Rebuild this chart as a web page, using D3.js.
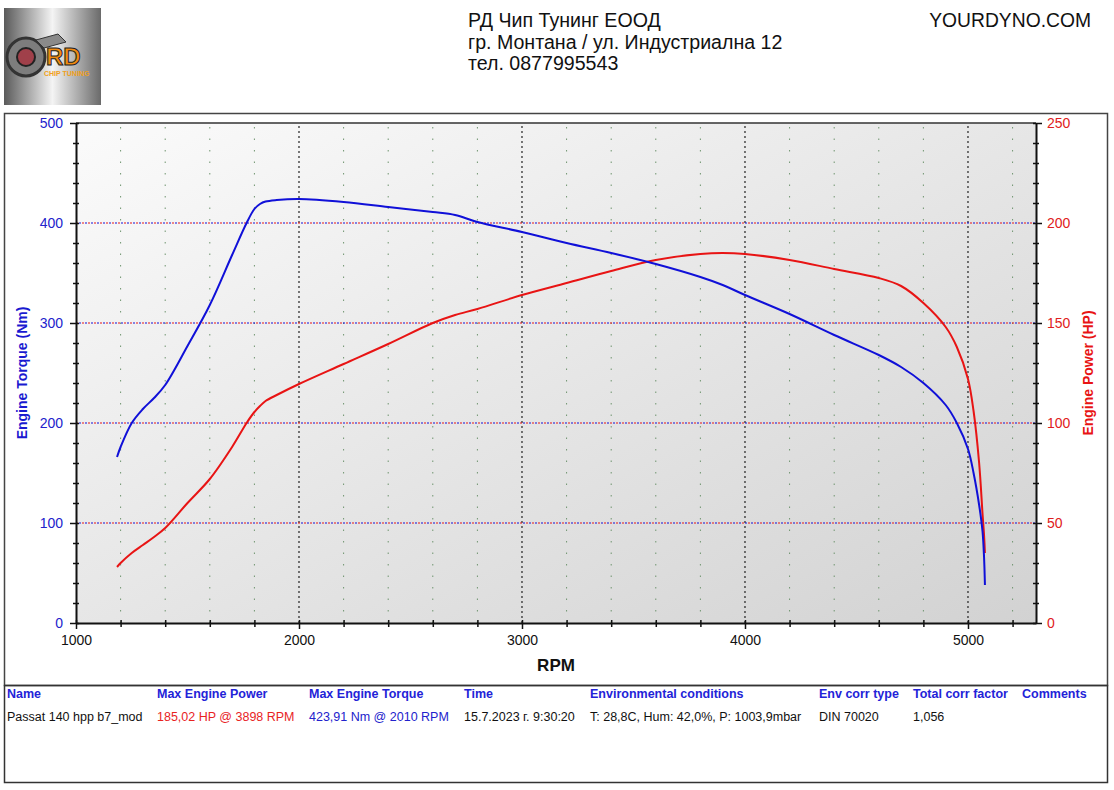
<!DOCTYPE html>
<meta charset="utf-8">
<script src="https://d3js.org/d3.v7.min.js"></script>
<style>
body {margin: 0; background: #fff;}
* {font-family: Arial, "Liberation Sans", sans-serif;}
</style>
<div id="chart"></div>
<script>
// dyno run
var rpm    = [1184, 1200, 1250, 1300, 1350, 1400, 1500, 1600, 1700, 1765, 1800, 1825, 1850, 1900, 2000, 2200, 2400, 2600, 2700, 2800, 3000, 3200, 3400, 3600, 3800, 3900, 4000, 4200, 4400, 4600, 4700, 4800, 4900, 4950, 5000, 5025, 5050, 5065, 5072, 5076];
var torque = [166, 176, 200, 214, 225, 238, 277, 318, 368, 400, 414, 419, 421.5, 423, 424, 421, 416, 411, 408, 401, 391, 380, 370, 359, 346, 338, 328, 309, 288, 268, 256, 240, 218, 200, 174, 150, 118, 92, 66, 38];
var power  = [28, 30, 35, 39, 43, 47.5, 60, 72, 88, 100, 105.5, 108.5, 111, 114, 119.5, 129.5, 139.5, 150, 154, 157, 164, 170, 176, 181.5, 184.5, 185, 184.5, 181.5, 177, 172.5, 168.5, 160, 148, 138, 122, 106, 80, 55, 44, 35];

var rpmTicks = d3.range(1000, 5301, 200);
var rpmLabels = [1000, 2000, 3000, 4000, 5000];
var torqueTicks = d3.range(0, 501, 20);
var powerTicks = d3.range(0, 251, 10);

var headerLines = ["РД Чип Тунинг ЕООД", "гр. Монтана / ул. Индустриална 12", "тел. 0877995543"];
var site = "YOURDYNO.COM";

var tableHeads = ["Name", "Max Engine Power", "Max Engine Torque", "Time", "Environmental conditions", "Env corr type", "Total corr factor", "Comments"];
var tableRow = ["Passat 140 hpp b7_mod", "185,02 HP @ 3898 RPM", "423,91 Nm @ 2010 RPM", "15.7.2023 г. 9:30:20", "T: 28,8C, Hum: 42,0%, P: 1003,9mbar", "DIN 70020", "1,056", ""];
var tableX = [7, 157, 309, 464, 590, 819, 913, 1022];
var rowColors = ["#111", "#e8231f", "#2222cc", "#111", "#111", "#111", "#111", "#111"];

var W = 1114, H = 790;
var blue = "#1010d8", red = "#e81414";
var pL = 76, pR = 1036, pT = 123, pB = 623;

var svg = d3.select("#chart").append("svg")
	.attr("width", W)
	.attr("height", H);

var defs = svg.append("defs");
var bg = defs.append("linearGradient").attr("id", "bg")
	.attr("x1", "0").attr("y1", "0").attr("x2", "1").attr("y2", "1");
bg.append("stop").attr("offset", "0").attr("stop-color", "#fbfbfb");
bg.append("stop").attr("offset", "1").attr("stop-color", "#d2d2d2");

var lg = defs.append("linearGradient").attr("id", "logo")
	.attr("x1", "0").attr("y1", "0").attr("x2", "1").attr("y2", "0");
lg.append("stop").attr("offset", "0").attr("stop-color", "#5a5a5a");
lg.append("stop").attr("offset", "0.5").attr("stop-color", "#f4f4f4");
lg.append("stop").attr("offset", "1").attr("stop-color", "#6a6a6a");

// logo
var logo = svg.append("g");
logo.append("rect").attr("x", 4).attr("y", 8).attr("width", 97).attr("height", 97).attr("fill", "url(#logo)");
logo.append("circle").attr("cx", 26).attr("cy", 57).attr("r", 19).attr("fill", "#7d7d7d").attr("stroke", "#333").attr("stroke-width", 3);
logo.append("circle").attr("cx", 26).attr("cy", 57).attr("r", 9).attr("fill", "#a0404a").attr("stroke", "#222").attr("stroke-width", 2);
logo.append("path").attr("d", "M36 40 L58 34 L66 42 L44 48 Z").attr("fill", "#8a8a8a").attr("stroke", "#333");
logo.append("text").attr("x", 46).attr("y", 65).attr("font-size", 24).attr("font-weight", "bold")
	.attr("fill", "#f08a10").attr("stroke", "#222").attr("stroke-width", 1).text("RD");
logo.append("text").attr("x", 44).attr("y", 76).attr("font-size", 7).attr("font-weight", "bold")
	.attr("fill", "#f0a020").text("CHIP TUNING");

// header text
svg.selectAll(".hdr").data(headerLines).enter().append("text")
	.attr("x", 468)
	.attr("y", function(d, i) { return 27 + i * 21.5; })
	.attr("font-size", 19.6)
	.attr("fill", "#111")
	.text(function(d) { return d; });
svg.append("text").attr("x", 1091).attr("y", 27).attr("text-anchor", "end")
	.attr("font-size", 19.3).attr("fill", "#111").text(site);

// frames
svg.append("rect").attr("x", 4.5).attr("y", 113.5).attr("width", 1103).attr("height", 572)
	.attr("fill", "none").attr("stroke", "#444").attr("stroke-width", 1.5);
svg.append("rect").attr("x", 4.5).attr("y", 685.5).attr("width", 1103).attr("height", 97)
	.attr("fill", "none").attr("stroke", "#333").attr("stroke-width", 1.5);

// scales
var x = d3.scaleLinear().domain([1000, 5305]).range([pL, pR]);
var yT = d3.scaleLinear().domain([0, 500]).range([pB, pT]);
var yP = d3.scaleLinear().domain([0, 250]).range([pB, pT]);

svg.append("rect").attr("x", pL).attr("y", pT).attr("width", pR - pL).attr("height", pB - pT)
	.attr("fill", "url(#bg)");

// vertical grid
var grid = svg.append("g");
rpmTicks.filter(function(d) { return d > 1000; }).forEach(function(d) {
	var major = d % 1000 === 0;
	grid.append("line")
		.attr("x1", x(d)).attr("x2", x(d))
		.attr("y1", pB).attr("y2", pT)
		.attr("stroke", major ? "#222" : "#6f946f")
		.attr("stroke-width", major ? 1.2 : 1)
		.attr("stroke-dasharray", major ? "2,3" : "1.5,10");
});

// horizontal grid, red/blue dashes
[100, 200, 300, 400].forEach(function(d) {
	grid.append("line").attr("x1", pL).attr("x2", pR).attr("y1", yT(d)).attr("y2", yT(d))
		.attr("stroke", red).attr("stroke-width", 1).attr("stroke-dasharray", "2,4");
	grid.append("line").attr("x1", pL).attr("x2", pR).attr("y1", yT(d)).attr("y2", yT(d))
		.attr("stroke", blue).attr("stroke-width", 1).attr("stroke-dasharray", "2,4").attr("stroke-dashoffset", -3);
});

svg.append("line").attr("x1", pL).attr("x2", pR).attr("y1", pT).attr("y2", pT)
	.attr("stroke", "#333").attr("stroke-width", 1.5);

// axes
var gx = svg.append("g").attr("transform", "translate(0," + pB + ")")
	.call(d3.axisBottom(x).tickValues(rpmTicks).tickSize(5).tickSizeOuter(0)
		.tickFormat(function(d) { return rpmLabels.indexOf(d) >= 0 ? d : ""; }));
gx.selectAll(".tick line").attr("y1", -3).attr("y2", function(d) { return d % 1000 === 0 ? 6 : 4; });
gx.selectAll("text").attr("font-size", 14).attr("fill", "#111").attr("y", 12).attr("font-family", "Arial, 'Liberation Sans'");

var gl = svg.append("g").attr("transform", "translate(" + pL + ",0)")
	.call(d3.axisLeft(yT).tickValues(torqueTicks).tickSizeOuter(0)
		.tickFormat(function(d) { return d % 100 === 0 ? d : ""; }));
gl.selectAll(".tick line").attr("x1", function(d) { return d % 100 === 0 ? -6 : -3; }).attr("x2", 3);
gl.selectAll("text").attr("font-size", 14).attr("fill", "#2222cc").attr("x", -13).attr("font-family", "Arial, 'Liberation Sans'");

var gr = svg.append("g").attr("transform", "translate(" + pR + ",0)")
	.call(d3.axisRight(yP).tickValues(powerTicks).tickSizeOuter(0)
		.tickFormat(function(d) { return d % 50 === 0 ? d : ""; }));
gr.selectAll(".tick line").attr("x1", -3).attr("x2", function(d) { return d % 50 === 0 ? 6 : 3; });
gr.selectAll("text").attr("font-size", 14).attr("fill", "#e02020").attr("x", 11).attr("font-family", "Arial, 'Liberation Sans'");

[gx, gl, gr].forEach(function(g) {
	g.select(".domain").attr("stroke", "#111").attr("stroke-width", 2);
	g.selectAll(".tick line").attr("stroke", "#111").attr("stroke-width", 1.5);
});

// axis titles
svg.append("text").attr("x", 556).attr("y", 671).attr("text-anchor", "middle")
	.attr("font-size", 17).attr("font-weight", "bold").attr("fill", "#111").text("RPM");
svg.append("text").attr("transform", "translate(27,373) rotate(-90)").attr("text-anchor", "middle")
	.attr("font-size", 14).attr("font-weight", "bold").attr("fill", "#1a1ad0").text("Engine Torque (Nm)");
svg.append("text").attr("transform", "translate(1093,373) rotate(-90)").attr("text-anchor", "middle")
	.attr("font-size", 14).attr("font-weight", "bold").attr("fill", "#e81414").text("Engine Power (HP)");

// curves
var tLine = d3.line().x(function(d, i) { return x(rpm[i]); }).y(function(d) { return yT(d); }).curve(d3.curveCatmullRom.alpha(0.5));
var pLine = d3.line().x(function(d, i) { return x(rpm[i]); }).y(function(d) { return yP(d); }).curve(d3.curveCatmullRom.alpha(0.5));

svg.append("path").datum(power).attr("d", pLine)
	.attr("fill", "none").attr("stroke", red).attr("stroke-width", 2);
svg.append("path").datum(torque).attr("d", tLine)
	.attr("fill", "none").attr("stroke", blue).attr("stroke-width", 2);

// results table
svg.selectAll(".th").data(tableHeads).enter().append("text")
	.attr("x", function(d, i) { return tableX[i]; })
	.attr("y", 698)
	.attr("font-size", 12.5).attr("font-weight", "bold").attr("fill", "#2323d8")
	.text(function(d) { return d; });
svg.selectAll(".td").data(tableRow).enter().append("text")
	.attr("x", function(d, i) { return tableX[i]; })
	.attr("y", 721)
	.attr("font-size", 12.5)
	.attr("fill", function(d, i) { return rowColors[i]; })
	.text(function(d) { return d; });
</script>
